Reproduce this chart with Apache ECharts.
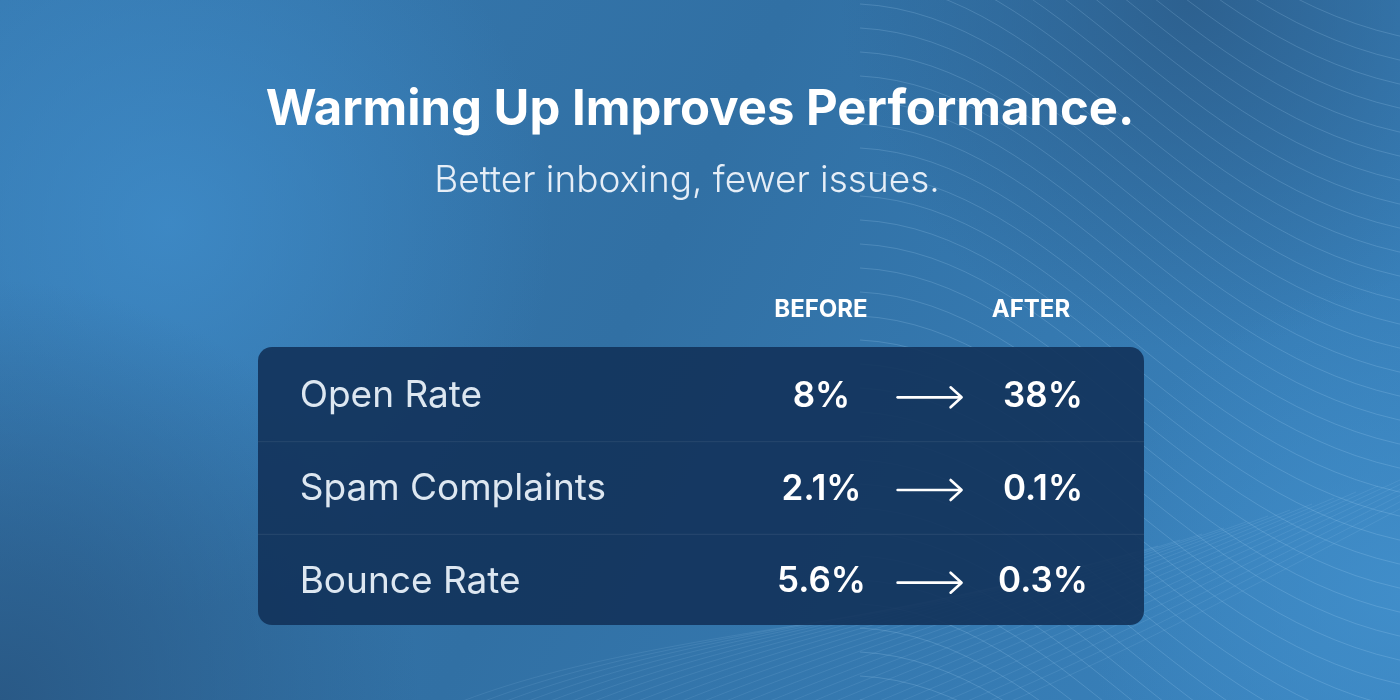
<!DOCTYPE html>
<html>
<head>
<meta charset="utf-8">
<style>
  html, body { margin: 0; padding: 0; width: 1400px; height: 700px; overflow: hidden; background: #3272a6; }
  #chart { width: 1400px; height: 700px; }
</style>
<script src="https://cdn.jsdelivr.net/npm/echarts@6/dist/echarts.min.js"></script>
</head>
<body>
<div id="chart"></div>
<script>
// ---- data ----
const titleText = 'Warming Up Improves Performance.';
const subtitleText = 'Better inboxing, fewer issues.';
const columns = ['BEFORE', 'AFTER'];
const rows = ['Open Rate', 'Spam Complaints', 'Bounce Rate'];
const before = [8, 2.1, 5.6];
const after = [38, 0.1, 0.3];

// ---- layout (styling only) ----
const GRID = { left: 258, top: 347, width: 886, height: 278 };
const COL = { label: 0.047, before: 0.636, arrow: 0.758, after: 0.886 };
const FONT = 'Inter, "Noto Sans", "DejaVu Sans", sans-serif';

const chart = echarts.init(document.getElementById('chart'), null, { renderer: 'canvas' });

// decorative background wave lines
const waves = [];
for (let i = 0; i < 46; i++) {
  const y0 = -260 + i * 24;
  waves.push({
    type: 'bezierCurve',
    silent: true,
    z: -9,
    shape: {
      x1: 860, y1: y0,
      cpx1: 1060, cpy1: y0 + 10,
      cpx2: 1180, cpy2: y0 + 260,
      x2: 1420, y2: y0 + 300
    },
    style: { stroke: 'rgba(190,225,255,0.18)', lineWidth: 1, fill: null }
  });
}
for (let i = 0; i < 26; i++) {
  const x0 = 440 + i * 22;
  waves.push({
    type: 'bezierCurve',
    silent: true,
    z: -9,
    shape: {
      x1: x0, y1: 710,
      cpx1: x0 + 120, cpy1: 660,
      cpx2: x0 + 260, cpy2: 640 - i * 2,
      x2: x0 + 520, y2: 600 - i * 6
    },
    style: { stroke: 'rgba(190,225,255,0.10)', lineWidth: 1, fill: null }
  });
}

const option = {
  backgroundColor: {
    type: 'linear', x: 0, y: 0, x2: 1, y2: 1,
    colorStops: [
      { offset: 0, color: '#3679b0' },
      { offset: 0.45, color: '#3170a4' },
      { offset: 1, color: '#3a84bf' }
    ]
  },
  animation: false,
  graphic: [
    // soft glows
    {
      type: 'rect', silent: true, z: -10,
      shape: { x: 0, y: 0, width: 1400, height: 700 },
      style: {
        fill: {
          type: 'radial', x: 0.12, y: 0.32, r: 0.55,
          colorStops: [
            { offset: 0, color: 'rgba(64,142,204,0.75)' },
            { offset: 1, color: 'rgba(64,142,204,0)' }
          ]
        }
      }
    },
    {
      type: 'rect', silent: true, z: -10,
      shape: { x: 0, y: 0, width: 1400, height: 700 },
      style: {
        fill: {
          type: 'radial', x: 0.0, y: 1.0, r: 0.6,
          colorStops: [
            { offset: 0, color: 'rgba(40,86,130,0.9)' },
            { offset: 1, color: 'rgba(40,86,130,0)' }
          ]
        }
      }
    },
    {
      type: 'rect', silent: true, z: -10,
      shape: { x: 0, y: 0, width: 1400, height: 700 },
      style: {
        fill: {
          type: 'radial', x: 0.85, y: 0.0, r: 0.5,
          colorStops: [
            { offset: 0, color: 'rgba(44,94,140,0.9)' },
            { offset: 1, color: 'rgba(44,94,140,0)' }
          ]
        }
      }
    },
    {
      type: 'rect', silent: true, z: -10,
      shape: { x: 0, y: 0, width: 1400, height: 700 },
      style: {
        fill: {
          type: 'radial', x: 1.0, y: 0.85, r: 0.45,
          colorStops: [
            { offset: 0, color: 'rgba(66,144,204,0.8)' },
            { offset: 1, color: 'rgba(66,144,204,0)' }
          ]
        }
      }
    },
    ...waves,
    // title + subtitle
    {
      type: 'text', z: 5, x: 700, y: 110,
      style: { text: titleText, fill: '#ffffff', font: '700 49px ' + FONT, align: 'center', verticalAlign: 'middle' }
    },
    {
      type: 'text', z: 5, x: 687, y: 181,
      style: { text: subtitleText, fill: '#e6eef7', font: '300 37px ' + FONT, align: 'center', verticalAlign: 'middle' }
    },
    // column headers
    {
      type: 'text', z: 5,
      x: 821, y: 310,
      style: { text: columns[0], fill: '#ffffff', font: '700 24px ' + FONT, align: 'center', verticalAlign: 'middle' }
    },
    {
      type: 'text', z: 5,
      x: 1031, y: 310,
      style: { text: columns[1], fill: '#ffffff', font: '700 24px ' + FONT, align: 'center', verticalAlign: 'middle' }
    },
    // table panel
    {
      type: 'rect', z: 1, silent: true,
      shape: { x: GRID.left, y: GRID.top, width: GRID.width, height: GRID.height, r: 14 },
      style: { fill: 'rgba(18,50,90,0.9)' }
    }
  ],
  grid: { left: GRID.left, top: GRID.top, width: GRID.width, height: GRID.height, containLabel: false },
  xAxis: { type: 'value', min: 0, max: 1, show: false },
  yAxis: { type: 'category', data: rows, inverse: true, show: false },
  series: [{
    type: 'custom',
    coordinateSystem: 'cartesian2d',
    z: 5,
    encode: { x: 1, y: 0 },
    data: rows.map((r, i) => [i, before[i], after[i]]),
    renderItem: function (params, api) {
      const idx = api.value(0);
      const cs = params.coordSys;
      const cy = api.coord([0, idx])[1];
      const bandH = api.size([0, 1])[1];
      const xAt = f => cs.x + f * cs.width;
      const children = [];
      if (idx > 0) {
        children.push({
          type: 'line',
          shape: { x1: cs.x, y1: cy - bandH / 2 + 2, x2: cs.x + cs.width, y2: cy - bandH / 2 + 2 },
          style: { stroke: 'rgba(255,255,255,0.08)', lineWidth: 1 }
        });
      }
      children.push({
        type: 'text',
        x: xAt(COL.label), y: cy + 3,
        style: { text: rows[idx], fill: '#dde7f1', font: '400 37px ' + FONT, align: 'left', verticalAlign: 'middle' }
      });
      children.push({
        type: 'text',
        x: xAt(COL.before), y: cy + 3,
        style: { text: api.value(1) + '%', fill: '#ffffff', font: '600 35px ' + FONT, align: 'center', verticalAlign: 'middle' }
      });
      children.push({
        type: 'text',
        x: xAt(COL.after), y: cy + 3,
        style: { text: api.value(2) + '%', fill: '#ffffff', font: '600 35px ' + FONT, align: 'center', verticalAlign: 'middle' }
      });
      const ax = xAt(COL.arrow);
      const ay = cy + 4;
      children.push({
        type: 'line',
        shape: { x1: ax - 32, y1: ay, x2: ax + 31, y2: ay },
        style: { stroke: '#ffffff', lineWidth: 2.6, lineCap: 'round' }
      });
      children.push({
        type: 'polyline',
        shape: { points: [[ax + 21, ay - 10], [ax + 32, ay], [ax + 21, ay + 10]] },
        style: { stroke: '#ffffff', lineWidth: 2.6, fill: null, lineCap: 'round', lineJoin: 'round' }
      });
      return { type: 'group', children: children };
    }
  }]
};

chart.setOption(option);
</script>
</body>
</html>
